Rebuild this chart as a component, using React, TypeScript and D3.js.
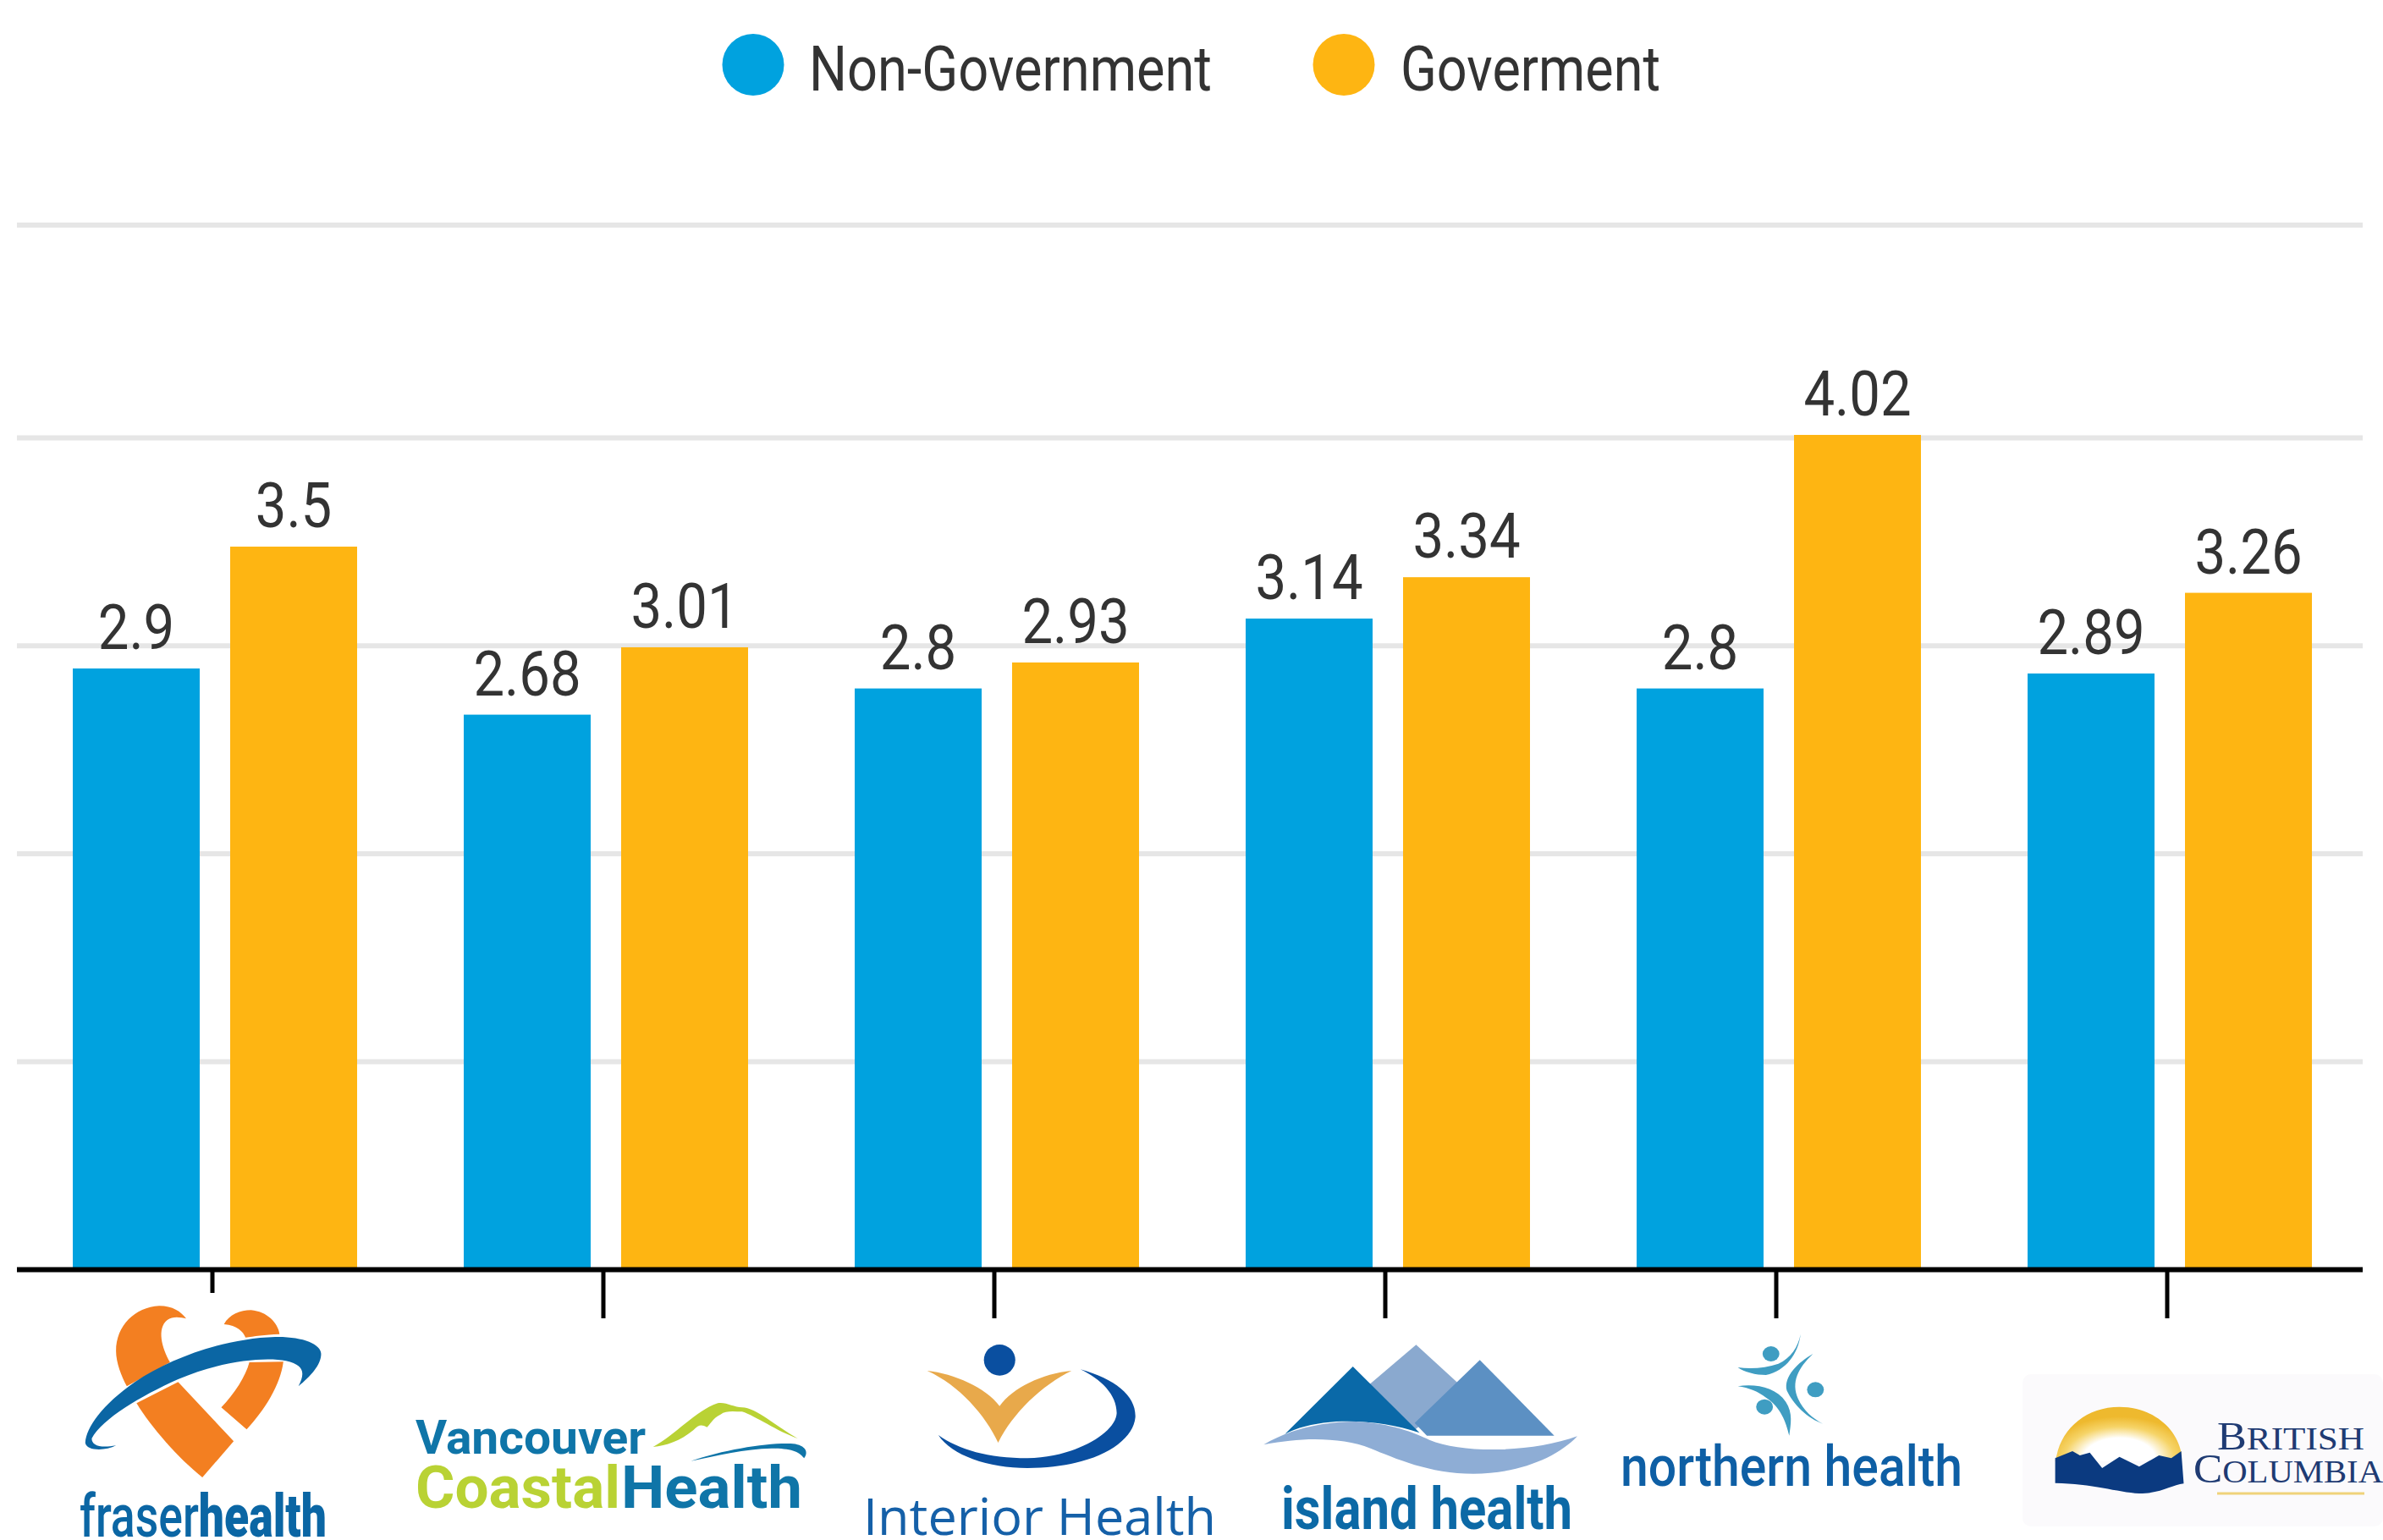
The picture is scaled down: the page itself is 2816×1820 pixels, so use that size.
import React from "react";
import * as d3 from "d3";

const categories = ["Fraser Health", "Vancouver Coastal Health", "Interior Health", "Island Health", "Northern Health", "British Columbia"];
const seriesNames = ["Non-Government", "Goverment"];
// printed data labels
const nonGovernmentLabels = ["2.9", "2.68", "2.8", "3.14", "2.8", "2.89"];
const governmentLabels = ["3.5", "3.01", "2.93", "3.34", "4.02", "3.26"];
// bar heights
const nonGovernment = [2.891, 2.669, 2.795, 3.131, 2.795, 2.867];
const government = [3.477, 2.993, 2.92, 3.33, 4.014, 3.255];
const gridTicks = [1, 2, 3, 4, 5];
const seriesColors = ["#00A2DF", "#FEB512"];

const W = 2816;
const H = 1820;
const FONT = "Roboto, sans-serif";

const x0 = d3.scaleBand<string>().domain(categories).range([23, 2795]);
const x1 = d3.scaleBand<string>().domain(seriesNames).range([-168, 168]).paddingInner(36 / 186);
const y = d3.scaleLinear().domain([0, 4, 5]).range([1500.5, 517.5, 266]);

const seriesValues = [nonGovernment, government];
const seriesLabels = [nonGovernmentLabels, governmentLabels];

function Legend() {
  const items = [
    { cx: 890, tx: 956, len: 476 },
    { cx: 1588, tx: 1655, len: 307 },
  ];
  return (
    <g>
      {seriesNames.map((n, i) => (
        <g key={n}>
          <circle cx={items[i].cx} cy={76.5} r={36.5} fill={seriesColors[i]} />
          <text x={items[i].tx} y={107} fontFamily={FONT} fontSize={75} fill="#333" textLength={items[i].len} lengthAdjust="spacingAndGlyphs">{n}</text>
        </g>
      ))}
    </g>
  );
}

function Fraser() {
  return (
    <g>
      <rect x={60} y={1528} width={360} height={292} fill="#fff" />
      <g transform={`translate(0,1460) scale(${1 / 1.568},${1 / 3})`}>
        <path fill="#F37F21" d="M295 250C250 255 215 320 215 410C215 450 225 500 235 535L315 450C300 400 290 330 310 300C320 285 335 290 345 295C335 270 320 250 295 250Z" />
        <path fill="#F37F21" d="M415 315C425 280 445 265 465 265C495 270 515 310 518 350C490 352 470 358 455 362C450 340 440 320 415 315Z" />
        <path fill="#F37F21" d="M462 450L525 448C520 530 490 620 457 688L410 610C435 560 455 500 462 450Z" />
        <path fill="#F37F21" d="M330 520L433 730L375 858C330 790 280 680 253 595Z" />
        <path fill="#0B66A4" d="M158 735C160 680 190 600 250 520C320 430 420 365 510 360C560 358 595 385 595 420C595 460 575 500 553 535C565 490 565 460 530 445C490 430 410 445 330 510C260 570 190 650 170 720C170 745 185 755 215 745C195 765 160 765 158 735Z" />
      </g>
      <text x={94} y={1816} fontFamily={FONT} fontWeight={500} fontSize={70} fill="#0B66A4" textLength={292} lengthAdjust="spacingAndGlyphs">fraser<tspan fontWeight={900}>health</tspan></text>
    </g>
  );
}

function Vancouver() {
  return (
    <g>
      <g transform={`translate(0,1460) scale(${1 / 1.568},${1 / 3})`}>
        <path fill="#B9D234" d="M1210 750C1250 710 1290 620 1330 595C1345 590 1360 610 1375 610C1400 610 1440 680 1478 720C1440 695 1400 640 1375 625C1360 625 1345 620 1335 635C1320 650 1320 660 1310 680C1300 670 1295 670 1285 690C1260 730 1235 745 1210 750Z" />
        <path fill="#0F75A8" d="M1280 800C1340 760 1420 735 1465 738C1490 740 1500 765 1490 790C1480 765 1465 755 1430 755C1380 757 1330 780 1280 800Z" />
      </g>
      <text x={491} y={1718} fontFamily={FONT} fontWeight={700} fontSize={56} fill="#0F75A8" textLength={272} lengthAdjust="spacingAndGlyphs">Vancouver</text>
      <text x={491} y={1782} fontFamily={FONT} fontWeight={700} fontSize={70} fill="#B9D234" textLength={242} lengthAdjust="spacingAndGlyphs">Coastal</text>
      <text x={734} y={1782} fontFamily={FONT} fontWeight={700} fontSize={70} fill="#0F75A8" textLength={214} lengthAdjust="spacingAndGlyphs">Health</text>
    </g>
  );
}

function Interior() {
  return (
    <g>
      <g transform={`translate(1000,1460) scale(${1 / 1.727},${1 / 3})`}>
        <ellipse cx={313} cy={442} rx={32} ry={55} fill="#0A4FA0" />
        <path fill="#E8A94B" d="M165 480C220 490 285 540 313 605C340 540 400 490 460 480C400 530 340 630 310 735C285 640 230 530 165 480Z" />
        <path fill="#0A4FA0" d="M478 475C550 510 592 570 590 645C585 740 500 825 370 825C290 825 215 780 188 708C230 760 290 790 370 790C470 785 550 700 552 630C552 565 520 510 478 475Z" />
      </g>
      <text x={1020} y={1814} fontFamily="'Open Sans', sans-serif" fontWeight={500} fontSize={60} fill="#1560A8" textLength={417} lengthAdjust="spacingAndGlyphs">Interior Health</text>
    </g>
  );
}

function Island() {
  return (
    <g>
      <g transform={`translate(1000,1460) scale(${1 / 1.727},${1 / 3})`}>
        <path fill="#8AA9CF" d="M1163 388L1262 545L1160 690L1060 540Z" />
        <path fill="#5C90C3" d="M1293 442L1445 710L1185 710L1160 665Z" />
        <path fill="#0A69A8" d="M1034 465L1170 700C1120 670 1060 655 1000 660C960 665 920 680 895 705Z" />
        <path fill="#8EADD5" d="M852 742C900 690 970 660 1040 660C1110 665 1160 700 1190 725C1260 775 1400 770 1492 712C1450 790 1370 845 1280 845C1190 845 1120 790 1070 755C1010 715 930 715 852 742Z" />
      </g>
      <text x={1514} y={1807} fontFamily={FONT} fontWeight={700} fontSize={70} fill="#0C69A6" textLength={344} lengthAdjust="spacingAndGlyphs">island health</text>
    </g>
  );
}

function Northern() {
  return (
    <g>
      <g transform={`translate(1900,1460) scale(${1 / 1.712},${1 / 3})`} fill="#3F9DC2">
        <ellipse cx={330} cy={420} rx={17} ry={27} />
        <ellipse cx={420} cy={547} rx={17} ry={27} />
        <ellipse cx={317} cy={608} rx={17} ry={27} />
        <path d="M390 350C385 420 360 480 320 495C300 495 275 485 263 468C290 475 320 470 345 455C370 435 385 395 390 350Z" />
        <path d="M415 420C385 470 370 520 385 580C395 620 415 650 435 668C405 650 375 600 362 550C355 500 385 450 415 420Z" />
        <path d="M263 535C300 525 340 540 360 590C375 630 370 670 367 710C360 660 350 610 320 575C305 555 285 540 263 535Z" />
      </g>
      <text x={1915} y={1756} fontFamily={FONT} fontWeight={500} fontSize={66} fill="#0E5FA5" textLength={404} lengthAdjust="spacingAndGlyphs">northern health</text>
    </g>
  );
}

function BritishColumbia() {
  return (
    <g>
      <rect x={2390} y={1624} width={426} height={180} rx={10} fill="#FBFAFC" />
      <defs>
        <radialGradient id="sunGlow" gradientUnits="userSpaceOnUse" cx={1035} cy={790} r={180}>
          <stop offset="0.4" stopColor="#FFFFFF" />
          <stop offset="0.62" stopColor="#F6D468" />
          <stop offset="0.82" stopColor="#EEB92E" />
        </radialGradient>
      </defs>
      <g transform={`translate(1900,1460) scale(${1 / 1.712},${1 / 3})`}>
        <path fill="url(#sunGlow)" d="M908 780C920 680 970 608 1035 608C1100 608 1150 680 1160 770L1160 800L905 800Z" />
        <path fill="#0B3A80" d="M905 790L940 765L955 780L975 770L1000 825L1035 785L1075 820L1115 780L1140 790L1160 765L1165 880C1140 885 1120 915 1075 915C1030 910 980 880 905 878Z" />
      </g>
      <text x={2620} y={1713} fontFamily="'Liberation Serif', serif" fontSize={46} fill="#1F3B73" textLength={174} lengthAdjust="spacingAndGlyphs">B<tspan fontSize={38}>RITISH</tspan></text>
      <text x={2592} y={1752} fontFamily="'Liberation Serif', serif" fontSize={48} fill="#1F3B73" textLength={224} lengthAdjust="spacingAndGlyphs">C<tspan fontSize={38}>OLUMBIA</tspan></text>
      <line x1={2620} x2={2794} y1={1765} y2={1765} stroke="#F0D27A" strokeWidth={3} />
    </g>
  );
}

export default function App() {
  return (
    <div style={{ position: "fixed", left: 0, top: 0, width: W, height: H, background: "#fff" }}>
      <svg width={W} height={H} viewBox={`0 0 ${W} ${H}`} style={{ display: "block" }}>
        <rect width={W} height={H} fill="#fff" />
        <Legend />
        {gridTicks.map((t) => (
          <line key={t} x1={20} x2={2792} y1={y(t)} y2={y(t)} stroke="#E6E6E6" strokeWidth={6} />
        ))}
        {categories.map((c, i) => (
          <g key={c} transform={`translate(${x0(c)! + x0.bandwidth() / 2},0)`}>
            {seriesNames.map((s, j) => {
              const v = seriesValues[j][i];
              const bx = x1(s)!;
              return (
                <g key={s}>
                  <rect x={bx} y={y(v)} width={x1.bandwidth()} height={y(0) - y(v)} fill={seriesColors[j]} />
                  <text
                    transform={`translate(${bx + x1.bandwidth() / 2},${y(v) - 23}) scale(0.87,1)`}
                    textAnchor="middle"
                    fontFamily={FONT}
                    fontSize={75}
                    fill="#333"
                  >
                    {seriesLabels[j][i]}
                  </text>
                </g>
              );
            })}
            <line x1={-3} x2={-3} y1={1500} y2={1558} stroke="#000" strokeWidth={5} />
          </g>
        ))}
        <line x1={20} x2={2792} y1={y(0)} y2={y(0)} stroke="#000" strokeWidth={6} />
        <Fraser />
        <Vancouver />
        <Interior />
        <Island />
        <Northern />
        <BritishColumbia />
      </svg>
    </div>
  );
}
